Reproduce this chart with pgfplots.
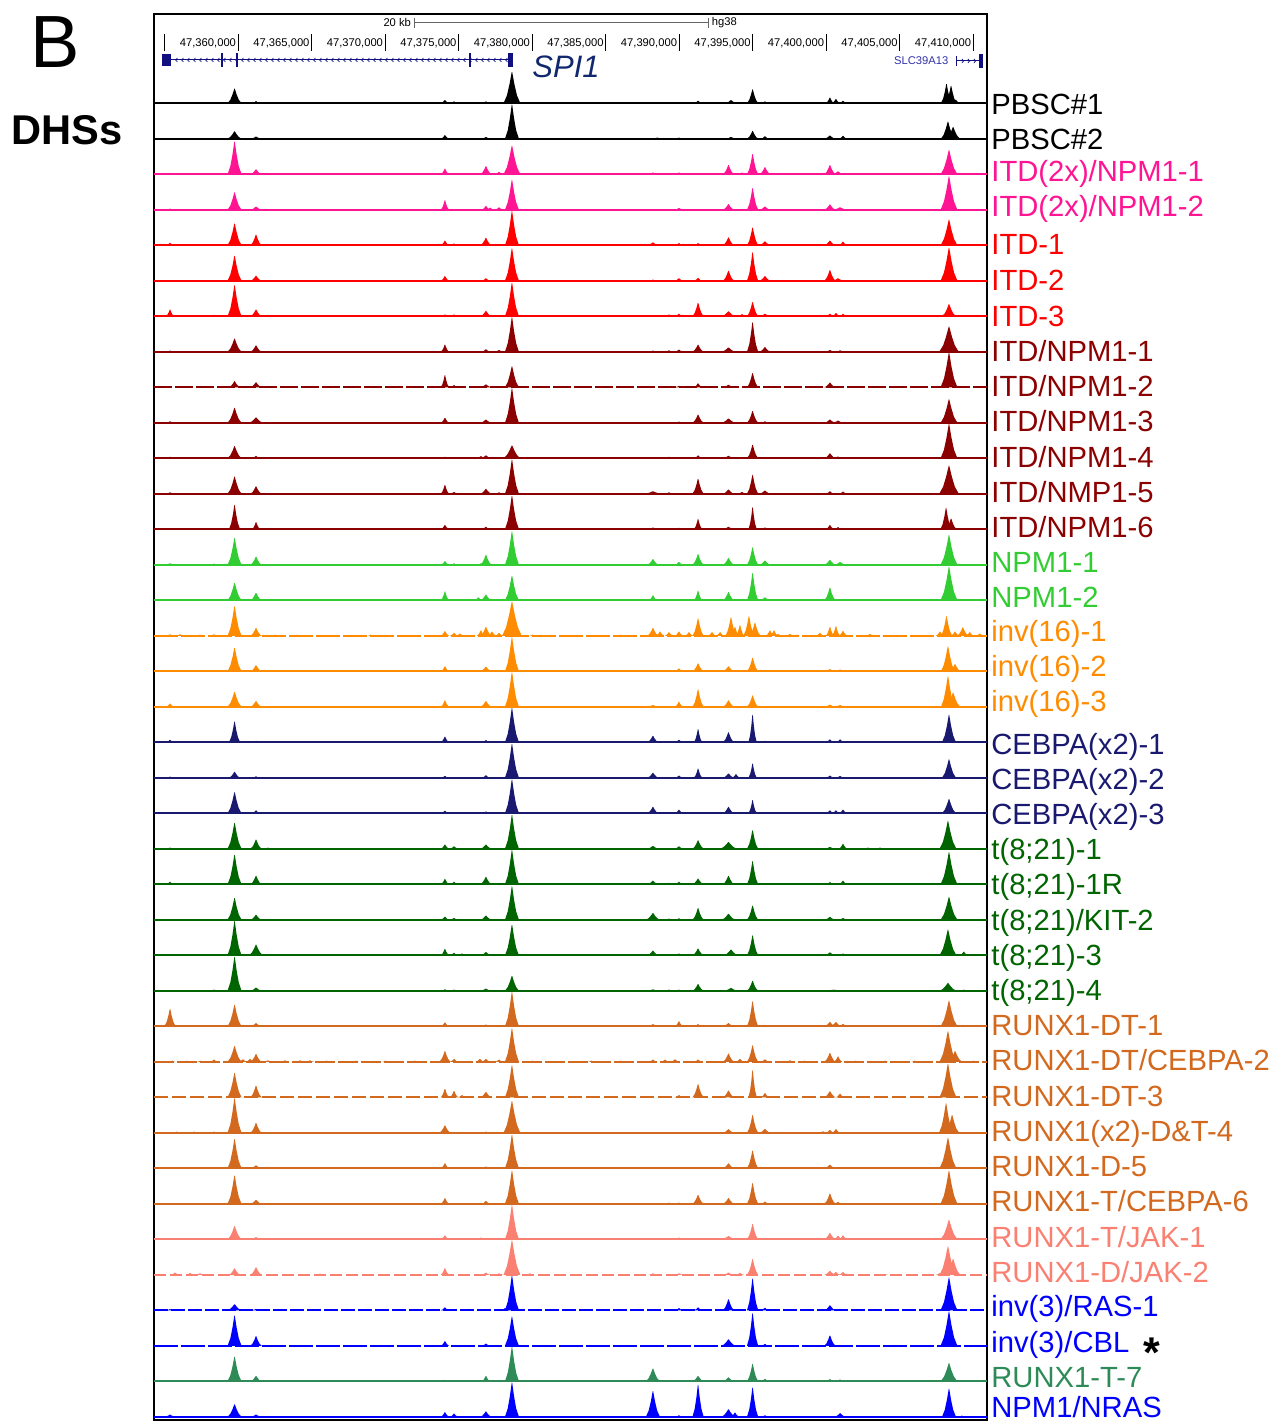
\documentclass[border=0pt]{standalone}
\usepackage{pgfplots}
\pgfplotsset{compat=1.18}
\usepackage{pgfplotstable}
\usepackage{fontspec}
\setmainfont{Liberation Sans}
\usetikzlibrary{decorations.markings}

\definecolor{pinkc}{RGB}{255,20,147}
\definecolor{redc}{RGB}{255,0,0}
\definecolor{darkredc}{RGB}{139,0,0}
\definecolor{greenc}{RGB}{50,205,50}
\definecolor{orangec}{RGB}{255,140,0}
\definecolor{navyc}{RGB}{25,25,112}
\definecolor{dgreenc}{RGB}{0,100,0}
\definecolor{brownc}{RGB}{210,105,30}
\definecolor{salmonc}{RGB}{250,128,114}
\definecolor{bluec}{RGB}{0,0,255}
\definecolor{seagreenc}{RGB}{46,139,87}
\definecolor{genec}{RGB}{16,16,128}
\definecolor{spic}{RGB}{18,40,110}
\definecolor{slcc}{RGB}{50,50,170}

% x: position in kb past chr11:47,350,000; h: signal in % of track height; w: half width of the peak base (px)
\pgfplotstableread{
x h w
5.35 2 3
9.74 41 5
11.20 6 3
24.05 9 3
24.67 5 3
26.84 5 3
28.61 88 6
38.20 2 3
41.27 7 3
43.51 9 4
44.98 39 4
45.82 5 3
50.24 16 3
50.65 12 3
51.13 7 3
58.17 54 4
58.48 49 4
58.80 10 3
}\pbscA
\pgfplotstableread{
x h w
9.74 21 5
11.20 6 4
24.05 10 3
26.84 5 3
28.61 96 5
38.50 3 6
39.97 3 3
43.51 5 4
44.98 22 4
45.82 7 3
50.24 9 4
51.13 8 3
58.27 48 5
58.62 33 5
}\pbscB
\pgfplotstableread{
x h w
5.35 4 3
9.74 92 5
11.20 14 4
24.05 16 3
26.84 23 4
27.73 7 3
28.61 80 6
38.20 5 4
39.97 5 3
43.34 26 4
44.26 5 3
44.98 57 4
45.82 20 4
50.24 26 4
50.79 8 4
58.34 68 6
}\itdxA
\pgfplotstableread{
x h w
5.35 3 3
9.74 49 5
11.20 9 4
24.05 27 3
26.84 11 3
27.12 6 3
27.73 7 3
28.61 84 5
39.97 5 3
43.34 16 4
44.98 61 4
45.82 9 4
50.24 15 4
50.93 7 5
58.34 94 6
}\itdxB
\pgfplotstableread{
x h w
5.35 7 3
9.74 61 5
11.20 30 4
24.05 13 3
24.67 5 3
26.84 21 4
28.61 96 5
38.20 8 4
39.97 6 3
41.27 6 3
43.34 22 4
44.98 50 4
45.82 11 4
50.24 13 4
51.13 10 3
58.34 72 6
}\itdA
\pgfplotstableread{
x h w
9.74 70 5
11.20 14 4
24.05 13 3
26.84 7 3
28.61 91 5
38.20 3 3
39.97 7 3
41.27 8 3
43.34 28 4
44.98 80 4
45.82 13 4
50.24 30 4
50.79 7 4
58.34 93 6
}\itdB
\pgfplotstableread{
x h w
5.35 19 3
8.34 4 3
9.74 87 5
11.20 19 4
24.05 5 3
24.67 5 3
26.84 15 4
28.61 94 5
38.20 3 3
39.29 5 3
39.97 7 3
41.27 38 4
43.34 14 5
44.26 6 3
44.98 40 4
45.82 7 4
50.24 7 3
50.65 9 3
51.13 7 3
58.34 34 5
}\itdC
\pgfplotstableread{
x h w
5.35 3 3
8.34 2 3
9.74 37 5
11.20 18 4
24.05 20 3
26.84 7 3
27.73 5 3
28.61 97 5
38.20 3 3
39.29 4 3
39.97 6 3
41.27 20 4
43.34 12 5
44.98 83 4
45.82 13 4
50.24 5 3
50.93 4 3
58.34 71 7
}\inA
\pgfplotstableread{
x h w
9.74 17 4
11.20 14 4
24.05 34 3
24.67 6 3
26.84 8 4
28.61 59 5
39.97 4 3
41.27 11 3
43.34 7 4
44.98 40 4
50.24 13 4
58.34 97 6
}\inB
\pgfplotstableread{
x h w
5.35 4 3
8.34 2 3
9.74 42 5
11.20 15 5
24.05 14 3
26.84 9 4
28.61 97 5
38.20 2 3
39.97 3 3
41.27 23 4
43.34 12 5
44.98 33 4
45.82 4 3
50.24 9 4
50.79 6 4
58.34 66 6
}\inC
\pgfplotstableread{
x h w
5.35 4 4
9.74 34 5
11.20 7 3
24.05 4 3
26.50 6 3
26.84 8 4
28.61 36 6
39.29 4 3
41.27 8 3
43.34 7 4
44.98 38 4
50.24 14 4
50.79 5 3
58.34 96 6
}\inD
\pgfplotstableread{
x h w
5.35 4 3
9.74 48 5
11.20 21 4
24.05 25 3
24.67 5 3
26.84 14 4
27.73 4 3
28.61 96 5
38.20 7 6
39.29 4 3
41.27 42 4
43.34 12 4
44.26 5 3
44.98 53 4
45.82 9 4
50.24 7 3
51.13 6 3
58.34 79 7
}\inE
\pgfplotstableread{
x h w
5.35 3 3
9.74 68 4
11.20 20 3
24.05 12 3
26.84 7 3
28.61 94 5
38.20 5 3
39.97 4 3
41.27 29 3
43.34 7 4
44.98 62 3
45.82 5 3
50.24 12 3
50.79 6 3
58.14 60 4
58.48 30 4
}\inF
\pgfplotstableread{
x h w
5.35 4 4
8.34 3 3
9.74 75 5
11.20 23 4
24.05 10 3
24.67 4 3
26.50 4 3
26.84 28 4
28.61 94 5
38.20 16 4
39.97 8 3
41.27 30 4
43.34 19 4
44.98 49 4
45.82 12 4
50.24 14 4
50.93 8 4
58.34 84 6
}\npmA
\pgfplotstableread{
x h w
5.00 3 2
6.50 3 2
9.74 49 5
11.20 21 4
13.50 3 2
15.20 3 2
17.00 3 2
19.00 2 2
21.00 3 2
23.00 3 2
24.05 25 3
26.33 8 3
26.84 16 4
28.61 69 5
30.50 3 2
32.00 3 2
34.00 3 2
36.00 2 2
38.20 14 3
41.27 27 3
43.34 23 4
44.98 77 4
45.82 8 4
47.00 3 2
48.50 3 2
50.24 36 4
53.00 3 2
55.00 3 2
56.50 3 2
58.34 94 6
60.00 3 2
}\npmB
\pgfplotstableread{
x h w
5.35 4 3
6.03 4 3
7.39 3 3
8.34 4 3
9.74 83 5
11.20 22 4
12.50 3 2
14.00 3 2
16.00 2 2
19.00 3 2
21.00 2 2
24.05 13 3
24.67 8 3
25.07 6 3
26.50 15 3
26.84 25 4
27.25 12 3
27.73 8 3
28.61 96 7
30.00 3 2
32.00 2 2
34.00 2 2
36.00 3 2
38.20 22 4
38.68 12 3
39.29 10 3
39.97 12 3
40.65 10 3
41.27 49 4
42.22 10 3
42.77 10 3
43.51 52 4
43.78 25 3
44.12 30 3
44.73 55 4
45.14 37 4
46.16 15 3
46.43 15 3
46.71 5 3
47.52 5 3
48.00 3 2
49.56 8 3
50.24 25 3
50.65 27 3
51.13 14 3
52.97 5 3
54.00 2 2
56.00 2 2
57.73 12 3
58.17 55 4
58.75 12 3
59.28 24 4
59.75 10 3
60.43 6 3
}\invA
\pgfplotstableread{
x h w
5.35 3 3
9.74 66 5
11.20 17 4
24.05 14 3
26.84 13 4
28.61 96 5
38.20 4 4
39.97 8 3
41.27 22 4
43.34 14 4
44.98 38 4
45.82 3 3
50.24 6 4
50.93 5 4
58.27 70 5
58.75 20 4
59.22 4 3
}\invB
\pgfplotstableread{
x h w
5.35 9 3
9.74 42 5
11.20 16 4
24.05 18 3
26.84 16 4
28.61 97 5
38.20 5 4
39.97 14 3
41.27 49 4
43.34 18 4
44.98 32 4
50.24 6 4
50.93 5 4
58.27 86 5
58.62 40 5
}\invC
\pgfplotstableread{
x h w
5.35 7 3
9.74 58 4
11.20 4 3
24.05 16 3
26.84 6 3
28.61 96 5
38.20 18 4
39.97 7 3
41.27 37 3
43.34 28 4
44.98 77 3
45.82 4 3
50.24 8 3
50.93 8 3
58.34 77 5
}\cebA
\pgfplotstableread{
x h w
5.35 3 3
9.74 17 4
11.20 4 3
24.05 5 3
26.84 7 3
28.61 95 5
38.20 14 4
39.97 6 3
41.27 26 3
43.34 12 4
43.85 10 3
44.98 40 3
50.24 6 3
50.93 5 3
58.34 52 5
}\cebB
\pgfplotstableread{
x h w
5.35 3 3
9.74 59 5
11.20 8 3
24.05 7 3
26.84 5 3
28.61 95 5
38.20 18 4
39.97 10 3
43.34 18 4
44.98 37 3
45.82 3 3
50.24 8 3
50.65 8 3
51.13 10 3
58.34 40 5
}\cebC
\pgfplotstableread{
x h w
5.35 3 3
6.16 2 3
8.34 2 3
9.74 73 5
11.20 26 4
12.01 3 3
24.05 12 3
24.67 7 3
26.84 12 4
28.61 95 5
38.20 8 4
39.97 7 3
41.27 24 4
43.34 19 6
44.98 52 4
50.24 5 4
51.13 14 3
52.83 3 3
53.65 3 3
58.27 78 6
}\ttA
\pgfplotstableread{
x h w
5.35 7 3
8.34 2 3
9.74 83 5
11.20 24 4
24.05 15 3
24.67 7 3
26.84 21 4
27.73 4 3
28.61 96 5
38.20 10 4
39.29 4 3
39.97 7 3
41.27 16 4
43.34 24 4
44.98 65 4
45.82 3 3
50.24 6 3
51.13 10 3
58.34 90 6
59.09 3 3
}\ttB
\pgfplotstableread{
x h w
8.34 2 3
9.74 61 5
11.20 14 4
24.05 9 3
24.67 5 3
26.84 12 4
28.61 94 5
38.20 19 5
39.29 3 3
39.97 4 3
41.27 33 4
43.34 17 5
44.98 40 4
50.24 8 4
51.13 5 3
58.34 64 6
}\ttC
\pgfplotstableread{
x h w
8.34 3 3
9.74 96 5
11.20 30 5
24.05 18 3
24.67 7 3
25.21 5 3
26.84 9 4
28.61 86 5
38.20 13 4
39.97 5 3
41.27 19 4
43.51 16 5
44.98 56 4
45.82 3 3
50.24 8 4
51.13 5 3
58.27 72 6
59.35 10 3
}\ttD
\pgfplotstableread{
x h w
8.34 3 3
9.74 95 5
11.20 9 4
24.05 4 3
24.67 3 3
26.84 6 4
28.61 42 5
38.20 4 4
39.29 3 3
39.97 3 3
41.27 19 4
43.51 8 5
44.98 28 4
45.82 2 3
50.50 3 8
58.27 22 6
59.35 3 3
}\ttE
\pgfplotstableread{
x h w
5.35 49 4
8.34 2 3
9.74 60 5
11.20 9 4
13.51 2 3
24.05 11 3
26.84 5 3
27.73 4 3
28.61 96 5
30.86 2 3
38.20 6 4
39.97 14 3
41.27 6 3
43.34 9 4
44.98 70 4
45.82 4 3
50.24 12 4
50.65 12 4
51.13 7 3
58.34 72 6
59.28 4 3
}\rxA
\pgfplotstableread{
x h w
5.50 3 2
6.50 3 2
7.40 3 2
8.34 6 3
9.74 44 5
10.31 7 3
10.79 8 3
11.20 22 4
12.01 4 3
13.17 4 3
14.19 4 3
14.87 4 3
16.00 3 3
18.00 3 2
20.00 3 2
22.00 3 2
24.05 30 4
24.67 8 3
26.43 8 3
26.84 8 3
27.73 6 3
28.61 94 5
30.00 3 2
32.00 2 2
34.00 3 2
36.00 3 2
38.20 6 3
39.02 6 3
39.70 7 3
41.27 6 3
43.34 23 4
44.12 8 3
44.98 46 4
45.82 7 3
47.52 4 3
48.50 3 2
50.24 25 4
50.79 15 3
52.00 3 2
54.00 3 2
56.00 3 2
58.27 86 6
58.75 30 5
60.00 3 2
}\rxB
\pgfplotstableread{
x h w
9.74 68 5
11.20 33 4
24.05 24 3
24.67 18 3
25.21 6 3
26.84 15 4
28.61 90 5
39.97 6 3
41.27 37 4
43.34 19 4
44.98 76 3
45.82 12 3
50.24 17 4
50.93 10 3
58.27 94 6
}\rxC
\pgfplotstableread{
x h w
5.80 3 3
7.00 3 3
8.34 3 3
9.74 97 5
11.20 28 4
13.50 2 2
16.00 2 2
22.00 2 2
24.05 21 4
26.84 3 3
28.61 89 6
33.00 2 2
37.00 2 2
43.34 10 4
44.98 50 4
45.82 11 4
49.77 4 3
50.24 8 3
50.65 10 3
58.14 83 5
58.55 50 5
}\rxD
\pgfplotstableread{
x h w
8.34 3 3
9.74 82 5
11.20 8 4
24.05 14 3
26.84 5 3
28.61 94 5
43.34 14 4
44.98 50 4
45.82 3 3
50.24 10 4
58.27 86 6
}\rxE
\pgfplotstableread{
x h w
5.35 2 3
9.74 79 5
11.20 11 4
24.05 16 3
26.84 8 3
28.61 93 5
39.29 3 3
39.97 3 3
41.27 25 4
43.34 16 4
44.98 58 4
45.82 6 3
50.24 29 4
50.79 5 3
58.34 93 6
}\rxF
\pgfplotstableread{
x h w
5.35 3 3
9.74 37 5
11.20 6 4
24.05 11 3
26.50 5 3
27.12 4 3
28.61 96 5
38.20 3 3
39.97 5 3
43.34 9 5
44.98 43 4
50.24 18 4
50.79 10 3
51.13 11 3
58.34 55 6
}\jakA
\pgfplotstableread{
x h w
5.69 6 3
6.71 5 3
7.39 4 3
9.74 18 4
11.20 21 4
15.55 3 3
18.00 2 2
21.00 2 2
24.05 19 3
26.84 6 3
27.73 4 3
28.61 97 6
29.84 4 3
31.00 2 2
33.00 2 2
35.00 2 2
38.20 4 3
39.97 4 3
43.34 6 4
44.12 5 3
44.98 44 4
47.00 2 2
50.24 11 4
50.65 8 3
51.13 8 3
54.00 2 2
57.73 5 3
58.27 80 6
58.62 45 5
60.00 2 2
}\jakB
\pgfplotstableread{
x h w
5.35 3 3
9.74 17 5
11.20 4 3
24.05 8 3
27.73 4 3
28.14 6 3
28.61 97 5
38.20 2 3
39.97 6 3
41.27 8 3
43.34 31 4
44.98 89 4
45.82 7 3
50.24 14 4
50.93 4 3
58.34 92 6
}\ivRas
\pgfplotstableread{
x h w
9.74 85 5
11.20 27 4
24.05 13 3
26.84 6 3
28.61 82 5
43.34 18 5
44.98 91 4
45.82 5 3
50.24 29 4
58.34 96 6
}\ivCbl
\pgfplotstableread{
x h w
9.74 69 5
11.20 15 4
24.05 4 3
26.84 15 3
28.61 97 5
38.20 36 5
41.27 15 4
43.34 11 4
44.98 49 4
45.82 7 3
50.24 6 3
50.93 5 3
58.34 51 6
}\rxSeven
\pgfplotstableread{
x h w
5.35 6 4
9.74 35 5
11.20 6 4
24.05 13 3
24.67 9 3
26.84 15 4
28.61 96 5
38.20 72 5
39.97 4 3
41.27 90 4
43.34 21 5
43.78 12 3
44.98 82 4
45.82 4 3
50.93 10 4
58.34 79 5
59.22 3 3
}\nras

% DHS peak: apex on the data point, base on the track baseline
% (\pkh: height in % of the 17.75pt track, \pkw: base half width in px)
\pgfdeclareplotmark{peak}{%
  \pgfpathmoveto{\pgfpoint{-\pkw*0.7pt}{-\pkh*0.1775pt}}%
  \pgfpathlineto{\pgfpoint{-0.6*\pkw*0.7pt}{-0.75*\pkh*0.1775pt}}%
  \pgfpathlineto{\pgfpoint{-0.3*\pkw*0.7pt}{-0.4*\pkh*0.1775pt}}%
  \pgfpathlineto{\pgfpoint{-0.12pt}{0pt}}%
  \pgfpathlineto{\pgfpoint{0.12pt}{0pt}}%
  \pgfpathlineto{\pgfpoint{0.3*\pkw*0.7pt}{-0.4*\pkh*0.1775pt}}%
  \pgfpathlineto{\pgfpoint{0.6*\pkw*0.7pt}{-0.75*\pkh*0.1775pt}}%
  \pgfpathlineto{\pgfpoint{\pkw*0.7pt}{-\pkh*0.1775pt}}%
  \pgfpathclose
  \pgfusepathqfill
}

\pgfplotsset{
  track/.style={width=416.3pt, height=17.75pt, scale only axis,
    xmin=4.26, xmax=60.90, ymin=0, ymax=100, axis lines=none,
    clip=false, anchor=south west},
  peaks/.style={scatter, only marks, mark=peak,
    scatter/use mapped color={draw=none, fill=#1},
    visualization depends on={\thisrow{h}\as\pkh},
    visualization depends on={\thisrow{w}\as\pkw}},
}
\newcommand\labfont{\fontsize{14.6pt}{16pt}\selectfont}
\newcommand\rulerfont{\fontsize{5.6pt}{6.5pt}\selectfont}

% #1 track number, #2 colour, #3 sample name, #4 baseline style, #5 table, #6 label height (px)
\newcommand\track[6]{%
  \begin{axis}[track, at={(77pt,{(1318.7-35.5*(#1-1))*0.5pt})}]
    \addplot[#2, line width=0.8pt, #4] coordinates {(4.26,0) (60.90,0)};
    \addplot[peaks=#2] table[x=x, y=h] {#5};
  \end{axis}
  \node[anchor=base west, inner sep=0pt, text=#2, font=\labfont]
    at (495.5pt,{(1411.6-#6)*0.5pt}) {#3};
}

\begin{document}
\begin{tikzpicture}
\useasboundingbox (0,0) rectangle (640pt,711pt);

\node[font=\fontsize{37pt}{40pt}\selectfont] at (27.5pt,690pt) {B};
\node[font=\fontsize{20.8pt}{24pt}\selectfont\bfseries] at (33.5pt,646pt) {DHSs};

% browser frame, scale bar, coordinate ruler and gene models
\begin{axis}[width=416.3pt, height=703pt, scale only axis, at={(77pt,1pt)},
  anchor=south west, xmin=4.26, xmax=60.90, ymin=2, ymax=1408,
  xtick=\empty, ytick=\empty, axis line style={line width=1.1pt}, clip=false]
  \draw[black!60, line width=0.5pt] (axis cs:21.95,1399) -- (axis cs:41.99,1399);
  \draw[black!60, line width=0.5pt] (axis cs:21.95,1394) -- (axis cs:21.95,1404);
  \draw[black!60, line width=0.5pt] (axis cs:41.99,1394) -- (axis cs:41.99,1404);
  \node[anchor=east, inner sep=1pt, font=\rulerfont] at (axis cs:21.9,1399) {20 kb};
  \node[anchor=west, inner sep=1pt, font=\rulerfont] at (axis cs:42.05,1399) {hg38};
  \pgfplotsinvokeforeach{5,10,15,20,25,30,35,40,45,50,55,60}{
    \draw[black, line width=0.5pt] (axis cs:#1,1371) -- (axis cs:#1,1388);}
  \node[anchor=east, inner sep=1pt, font=\rulerfont] at (axis cs:10,1379) {47,360,000};
  \node[anchor=east, inner sep=1pt, font=\rulerfont] at (axis cs:15,1379) {47,365,000};
  \node[anchor=east, inner sep=1pt, font=\rulerfont] at (axis cs:20,1379) {47,370,000};
  \node[anchor=east, inner sep=1pt, font=\rulerfont] at (axis cs:25,1379) {47,375,000};
  \node[anchor=east, inner sep=1pt, font=\rulerfont] at (axis cs:30,1379) {47,380,000};
  \node[anchor=east, inner sep=1pt, font=\rulerfont] at (axis cs:35,1379) {47,385,000};
  \node[anchor=east, inner sep=1pt, font=\rulerfont] at (axis cs:40,1379) {47,390,000};
  \node[anchor=east, inner sep=1pt, font=\rulerfont] at (axis cs:45,1379) {47,395,000};
  \node[anchor=east, inner sep=1pt, font=\rulerfont] at (axis cs:50,1379) {47,400,000};
  \node[anchor=east, inner sep=1pt, font=\rulerfont] at (axis cs:55,1379) {47,405,000};
  \node[anchor=east, inner sep=1pt, font=\rulerfont] at (axis cs:60,1379) {47,410,000};
  % SPI1 (minus strand)
  \draw[genec, line width=0.5pt, postaction={decorate, decoration={markings,
      mark=between positions 0.04 and 0.99 step 3pt with
      {\draw[genec, line width=0.35pt] (0.9pt,1pt) -- (0pt,0pt) -- (0.9pt,-1pt);}}}]
    (axis cs:4.78,1362) -- (axis cs:28.61,1362);
  \fill[genec] (axis cs:4.78,1356) rectangle (axis cs:5.39,1368);
  \draw[genec, line width=1pt] (axis cs:8.88,1355) -- (axis cs:8.88,1369);
  \draw[genec, line width=1pt] (axis cs:9.93,1355) -- (axis cs:9.93,1369);
  \draw[genec, line width=1pt] (axis cs:25.76,1355) -- (axis cs:25.76,1369);
  \fill[genec] (axis cs:28.33,1355) rectangle (axis cs:28.65,1369);
  \node[font=\fontsize{15.5pt}{17pt}\selectfont\itshape, text=spic] at (axis cs:32.29,1355) {SPI1};
  % SLC39A13 (plus strand)
  \node[font=\rulerfont, text=slcc] at (axis cs:56.45,1361) {SLC39A13};
  \draw[genec, line width=0.5pt] (axis cs:58.88,1356) -- (axis cs:58.88,1366);
  \draw[genec, line width=0.5pt, postaction={decorate, decoration={markings,
      mark=between positions 0.3 and 0.9 step 3pt with
      {\draw[genec, line width=0.35pt] (-0.9pt,1pt) -- (0pt,0pt) -- (-0.9pt,-1pt);}}}]
    (axis cs:58.88,1361) -- (axis cs:60.40,1361);
  \fill[genec] (axis cs:60.39,1354) rectangle (axis cs:60.68,1368);
\end{axis}

\track{1}{black}{PBSC\#1}{}{\pbscA}{104}
\track{2}{black}{PBSC\#2}{}{\pbscB}{139}
\track{3}{pinkc}{ITD(2x)/NPM1-1}{}{\itdxA}{171}
\track{4}{pinkc}{ITD(2x)/NPM1-2}{}{\itdxB}{206}
\track{5}{redc}{ITD-1}{}{\itdA}{244}
\track{6}{redc}{ITD-2}{}{\itdB}{280}
\track{7}{redc}{ITD-3}{}{\itdC}{316}
\track{8}{darkredc}{ITD/NPM1-1}{}{\inA}{351}
\track{9}{darkredc}{ITD/NPM1-2}{dash pattern=on 9pt off 1.5pt}{\inB}{386}
\track{10}{darkredc}{ITD/NPM1-3}{}{\inC}{421}
\track{11}{darkredc}{ITD/NPM1-4}{}{\inD}{457}
\track{12}{darkredc}{ITD/NMP1-5}{}{\inE}{492}
\track{13}{darkredc}{ITD/NPM1-6}{}{\inF}{527}
\track{14}{greenc}{NPM1-1}{}{\npmA}{562}
\track{15}{greenc}{NPM1-2}{}{\npmB}{597}
\track{16}{orangec}{inv(16)-1}{dash pattern=on 12pt off 1.5pt}{\invA}{631}
\track{17}{orangec}{inv(16)-2}{}{\invB}{666}
\track{18}{orangec}{inv(16)-3}{}{\invC}{701}
\track{19}{navyc}{CEBPA(x2)-1}{}{\cebA}{744}
\track{20}{navyc}{CEBPA(x2)-2}{}{\cebB}{779}
\track{21}{navyc}{CEBPA(x2)-3}{}{\cebC}{814}
\track{22}{dgreenc}{t(8;21)-1}{}{\ttA}{849}
\track{23}{dgreenc}{t(8;21)-1R}{}{\ttB}{884}
\track{24}{dgreenc}{t(8;21)/KIT-2}{}{\ttC}{920}
\track{25}{dgreenc}{t(8;21)-3}{}{\ttD}{955}
\track{26}{dgreenc}{t(8;21)-4}{}{\ttE}{990}
\track{27}{brownc}{RUNX1-DT-1}{}{\rxA}{1025}
\track{28}{brownc}{RUNX1-DT/CEBPA-2}{dash pattern=on 10pt off 1.5pt}{\rxB}{1060}
\track{29}{brownc}{RUNX1-DT-3}{dash pattern=on 7pt off 2pt}{\rxC}{1096}
\track{30}{brownc}{RUNX1(x2)-D\&T-4}{}{\rxD}{1131}
\track{31}{brownc}{RUNX1-D-5}{}{\rxE}{1166}
\track{32}{brownc}{RUNX1-T/CEBPA-6}{}{\rxF}{1201}
\track{33}{salmonc}{RUNX1-T/JAK-1}{}{\jakA}{1237}
\track{34}{salmonc}{RUNX1-D/JAK-2}{dash pattern=on 6pt off 2pt}{\jakB}{1272}
\track{35}{bluec}{inv(3)/RAS-1}{dash pattern=on 7pt off 1.5pt}{\ivRas}{1306}
\track{36}{bluec}{inv(3)/CBL}{dash pattern=on 12pt off 1.5pt}{\ivCbl}{1342}
\track{37}{seagreenc}{RUNX1-T-7}{}{\rxSeven}{1377}
\track{38}{bluec}{NPM1/NRAS}{}{\nras}{1407}

\node[anchor=base, inner sep=0pt, font=\fontsize{21.5pt}{24pt}\selectfont\bfseries] at (576pt,27pt) {*};
\end{tikzpicture}
\end{document}
